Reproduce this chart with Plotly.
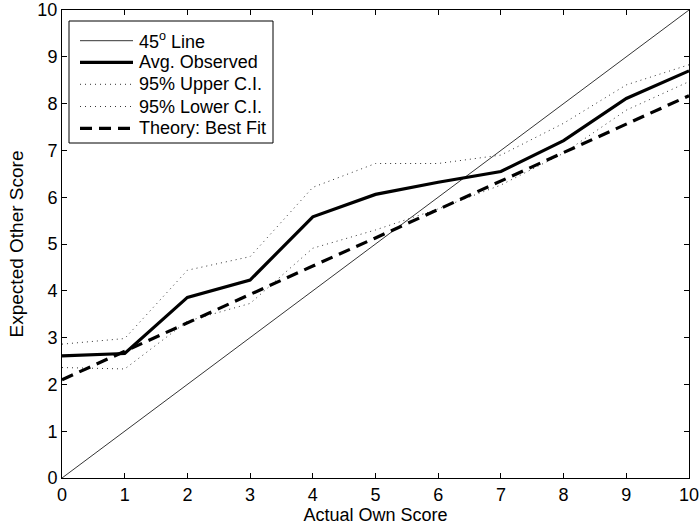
import plotly.graph_objects as go

# ---- data ----
x_vals = [0, 1, 2, 3, 4, 5, 6, 7, 8, 9, 10]
line45_x = [0, 10]
line45_y = [0, 10]
avg_observed = [2.61, 2.66, 3.86, 4.23, 5.58, 6.06, 6.32, 6.55, 7.21, 8.11, 8.70]
upper_ci = [2.86, 2.98, 4.44, 4.73, 6.21, 6.72, 6.72, 6.90, 7.58, 8.40, 8.83]
lower_ci = [2.36, 2.33, 3.35, 3.73, 4.91, 5.30, 5.75, 6.26, 6.94, 7.86, 8.47]
theory_fit = [2.10, 2.71, 3.31, 3.92, 4.53, 5.13, 5.74, 6.35, 6.95, 7.56, 8.17]
tick_vals = [0, 1, 2, 3, 4, 5, 6, 7, 8, 9, 10]
legend_labels = ["45<sup>o</sup> Line", "Avg. Observed", "95% Upper C.I.",
                 "95% Lower C.I.", "Theory: Best Fit"]

FONT = "Liberation Sans, Arial, Helvetica, sans-serif"
W, H = 699, 529
ML, MR, MT, MB = 62, 10, 10, 51
PW, PH = W - ML - MR, H - MT - MB

styles = [
    dict(color="black", width=0.8),
    dict(color="black", width=3.2),
    dict(color="#333", width=1, dash="1px,4px"),
    dict(color="#333", width=1, dash="1px,4px"),
    dict(color="black", width=3.2, dash="12px,7px"),
]

fig = go.Figure()
series = [
    (line45_x, line45_y),
    (x_vals, avg_observed),
    (x_vals, upper_ci),
    (x_vals, lower_ci),
    (x_vals, theory_fit),
]
for (xs, ys), st, name in zip(series, styles, legend_labels):
    fig.add_trace(go.Scatter(x=xs, y=ys, mode="lines", line=st, name=name,
                             showlegend=False, hoverinfo="skip"))

def px_x(p):
    return (p - ML) / PW

def px_y(p):
    return (H - MB - p) / PH

shapes = []
annotations = []
# legend box
shapes.append(dict(type="rect", xref="paper", yref="paper",
                   x0=px_x(69), x1=px_x(273), y0=px_y(143), y1=px_y(21),
                   line=dict(color="black", width=1), fillcolor="white", layer="above"))
entry_y = [40.7, 62.3, 84.3, 106.5, 128.3]
for ey, st, lab in zip(entry_y, styles, legend_labels):
    shapes.append(dict(type="line", xref="paper", yref="paper",
                       x0=px_x(80), x1=px_x(133), y0=px_y(ey), y1=px_y(ey),
                       line=st, layer="above"))
    annotations.append(dict(xref="paper", yref="paper", x=px_x(137), y=px_y(ey),
                            text=lab, showarrow=False, xanchor="left", yanchor="middle",
                            font=dict(family=FONT, size=18, color="black")))

axis_common = dict(
    showline=True, linecolor="black", linewidth=1, mirror="ticks",
    ticks="inside", ticklen=5, tickcolor="black", tickwidth=1,
    showgrid=False, zeroline=False, tickvals=tick_vals,
    tickfont=dict(family=FONT, size=18, color="black"),
    automargin=False, ticklabeloverflow="allow",
)

fig.update_layout(
    width=W, height=H,
    margin=dict(l=ML, r=MR, t=MT, b=MB),
    paper_bgcolor="white", plot_bgcolor="white",
    showlegend=False,
    font=dict(family=FONT, size=18, color="black"),
    xaxis=dict(range=[0, 10], title=dict(text="Actual Own Score", standoff=3,
               font=dict(family=FONT, size=18)), **axis_common),
    yaxis=dict(range=[0, 10], title=dict(text="Expected Other Score", standoff=8,
               font=dict(family=FONT, size=19)), **axis_common),
    shapes=shapes,
    annotations=annotations,
)

fig.write_html("out.html", config={"displayModeBar": False},
               post_script="document.body.style.margin='0';")
